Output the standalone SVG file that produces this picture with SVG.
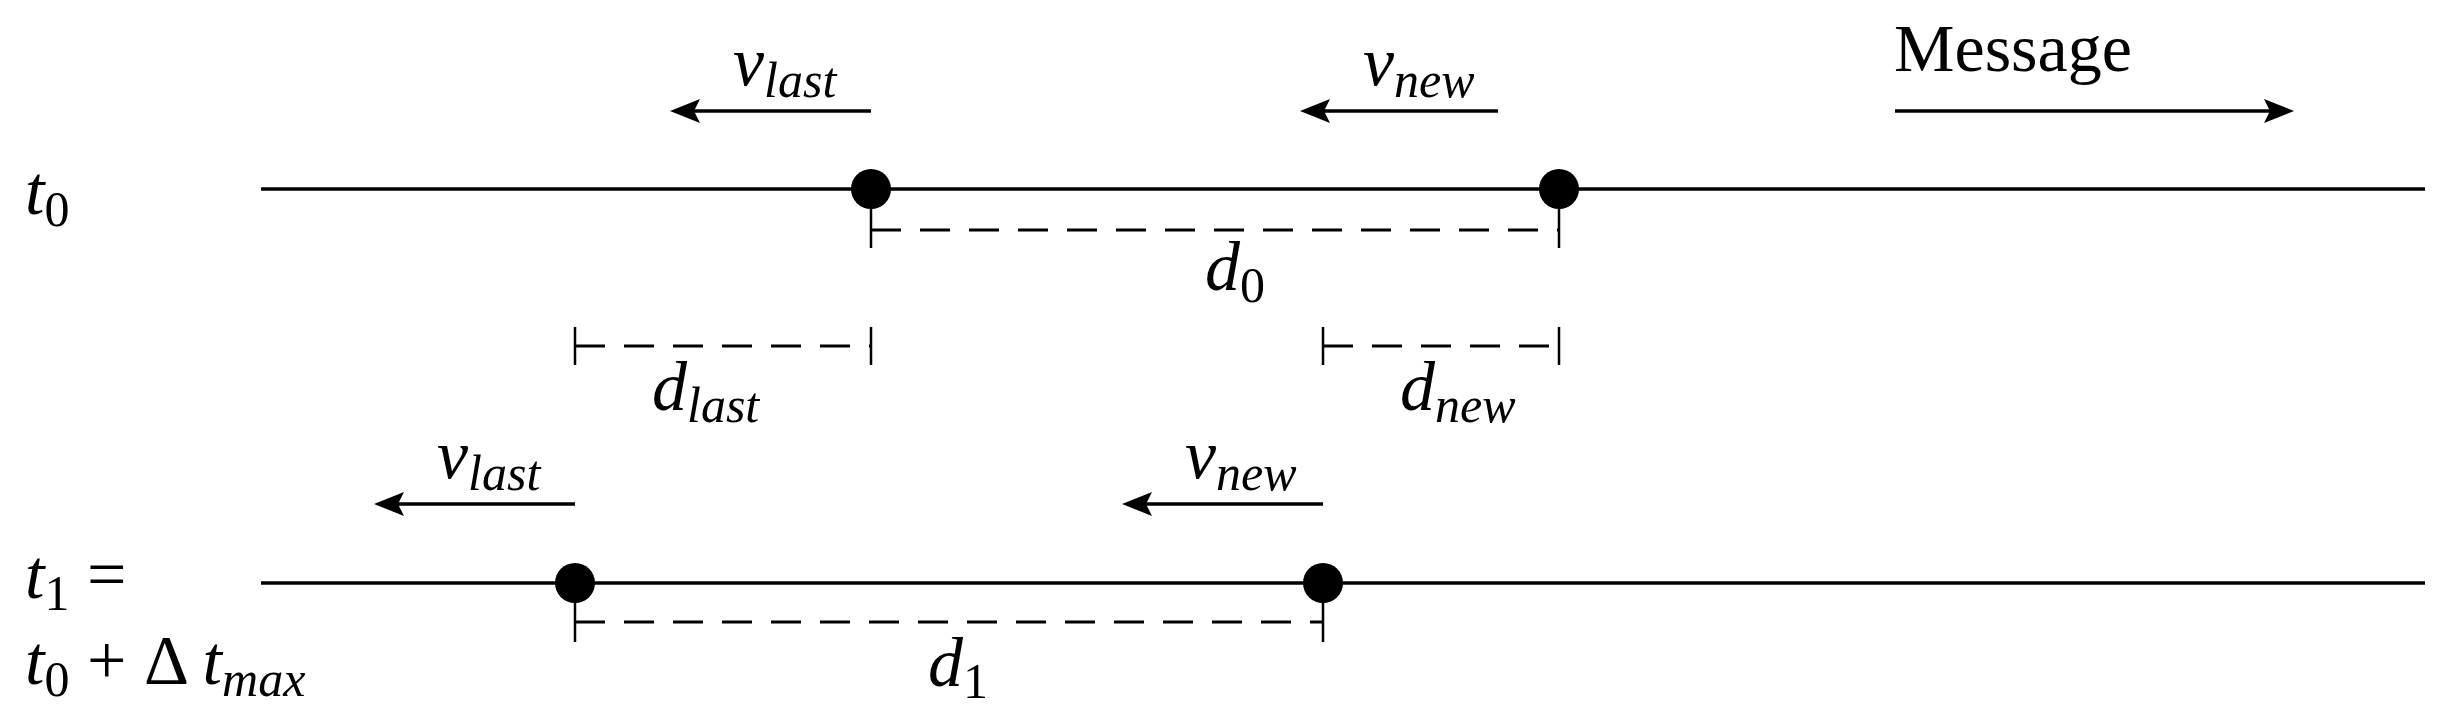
<svg xmlns="http://www.w3.org/2000/svg" width="2452" height="719" viewBox="0 0 2452 719">
<style>
.ln{stroke:#000;stroke-width:3.5;fill:none}
.tk{stroke:#000;stroke-width:2.5;fill:none}
.ds{stroke:#000;stroke-width:3;fill:none;stroke-dasharray:30 19}
.m{font-family:"Liberation Serif",serif;font-style:italic;font-size:70px;fill:#000}
.s{font-size:50px}
.r{font-family:"Liberation Serif",serif;font-size:68px;fill:#000}
</style>
<defs>
<marker id="ah2" viewBox="0 0 10 10" refX="8" refY="5" markerWidth="30" markerHeight="30" markerUnits="userSpaceOnUse" orient="auto-start-reverse">
<path d="M0,1 L10,5 L0,9 L2,5 z" fill="#000"/>
</marker>
</defs>
<g id="connectors">
<line class="ln" x1="261" y1="189" x2="2425" y2="189"/>
<line class="ln" x1="261" y1="583" x2="2425" y2="583"/>
<line class="ln" x1="871" y1="111" x2="676" y2="111" marker-end="url(#ah2)"/>
<line class="ln" x1="1498" y1="111" x2="1306" y2="111" marker-end="url(#ah2)"/>
<line class="ln" x1="1895" y1="111" x2="2288" y2="111" marker-end="url(#ah2)"/>
<line class="ln" x1="575" y1="504" x2="380" y2="504" marker-end="url(#ah2)"/>
<line class="ln" x1="1323" y1="504" x2="1128" y2="504" marker-end="url(#ah2)"/>
<line class="ds" x1="871" y1="230" x2="1559" y2="230"/>
<line class="tk" x1="871" y1="189" x2="871" y2="248"/>
<line class="tk" x1="1559" y1="189" x2="1559" y2="248"/>
<line class="ds" x1="575" y1="346" x2="871" y2="346"/>
<line class="tk" x1="575" y1="327" x2="575" y2="365"/>
<line class="tk" x1="871" y1="327" x2="871" y2="365"/>
<line class="ds" x1="1323" y1="346" x2="1559" y2="346"/>
<line class="tk" x1="1323" y1="327" x2="1323" y2="365"/>
<line class="tk" x1="1559" y1="327" x2="1559" y2="365"/>
<line class="ds" x1="575" y1="622" x2="1323" y2="622"/>
<line class="tk" x1="575" y1="583" x2="575" y2="642"/>
<line class="tk" x1="1323" y1="583" x2="1323" y2="642"/>
</g>
<g id="node-last0"><ellipse cx="871" cy="189" rx="20" ry="20" fill="#000"/></g>
<g id="node-new0"><ellipse cx="1559" cy="189" rx="20" ry="20" fill="#000"/></g>
<g id="node-last1"><ellipse cx="575" cy="583" rx="20" ry="20" fill="#000"/></g>
<g id="node-new1"><ellipse cx="1323" cy="583" rx="20" ry="20" fill="#000"/></g>
<g id="labels">
<text class="m" x="25" y="214">t<tspan class="s" font-style="normal" dy="12">0</tspan></text>
<text class="m" x="25" y="598">t<tspan class="s" font-style="normal" dy="12">1</tspan><tspan font-style="normal" dy="-12"> =</tspan></text>
<text class="m" x="25" y="684">t<tspan class="s" font-style="normal" dy="12">0</tspan><tspan font-style="normal" dy="-12"> + Δ </tspan>t<tspan class="s" dy="12">max</tspan></text>
<text class="m" x="733" y="85">v<tspan class="s" dy="12">last</tspan></text>
<text class="m" x="1363" y="85">v<tspan class="s" dy="12">new</tspan></text>
<text class="r" x="1894" y="71">Message</text>
<text class="m" x="1205" y="290">d<tspan class="s" font-style="normal" dy="12">0</tspan></text>
<text class="m" x="652" y="410">d<tspan class="s" dy="12">last</tspan></text>
<text class="m" x="1400" y="410">d<tspan class="s" dy="12">new</tspan></text>
<text class="m" x="437" y="478">v<tspan class="s" dy="12">last</tspan></text>
<text class="m" x="1185" y="478">v<tspan class="s" dy="12">new</tspan></text>
<text class="m" x="928" y="686">d<tspan class="s" font-style="normal" dy="12">1</tspan></text>
</g>
</svg>
